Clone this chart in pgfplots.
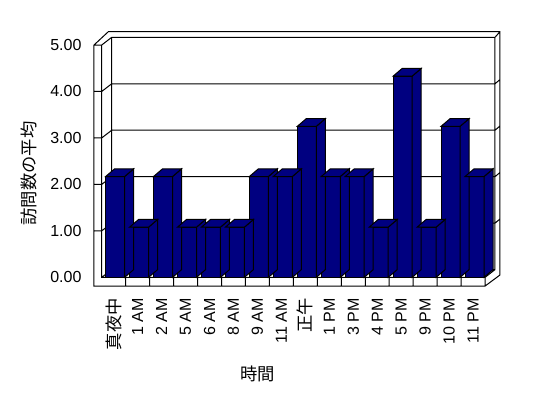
\documentclass[border=0pt]{standalone}
\usepackage{pgfplots}
\pgfplotsset{compat=1.18}
\usepackage{pgfplotstable}
\usepackage{fontspec}
\setmainfont{Liberation Sans}
\newfontfamily\jp{Noto Sans CJK JP}
\definecolor{navy}{RGB}{0,0,128}

\newlength\bh
\pgfdeclareplotmark{barcap}{%
  \pgfmathsetlength{\bh}{\barv*34.85pt}%
  \pgfpathmoveto{\pgfqpoint{7.125pt}{0pt}}%
  \pgfpathlineto{\pgfqpoint{13.875pt}{5.775pt}}%
  \pgfpathlineto{\pgfpoint{13.875pt}{5.775pt-\bh}}%
  \pgfpathlineto{\pgfpoint{7.125pt}{-\bh}}%
  \pgfpathclose
  \pgfusepath{fill,stroke}%
  \pgfpathmoveto{\pgfqpoint{-7.125pt}{0pt}}%
  \pgfpathlineto{\pgfqpoint{7.125pt}{0pt}}%
  \pgfpathlineto{\pgfqpoint{13.875pt}{5.775pt}}%
  \pgfpathlineto{\pgfqpoint{-0.375pt}{5.775pt}}%
  \pgfpathclose
  \pgfusepath{fill,stroke}%
}

\pgfplotstableread{
x v
0.06 2.17
1.06 1.08
2.06 2.17
3.06 1.08
4.06 1.08
5.06 1.08
6.06 2.17
7.06 2.17
8.06 3.25
9.06 2.17
10.06 2.17
11.06 1.08
12.06 4.33
13.06 1.08
14.06 3.25
15.06 2.17
}\datatable

\begin{document}
\begin{tikzpicture}
\begin{axis}[
  x=17.97pt, y=34.85pt,
  xmin=-0.5, xmax=15.5, ymin=0, ymax=5,
  clip=false,
  axis line style={draw=none},
  major tick length=0pt,
  xtick={0,...,15},
  xticklabels={{\jp\fontsize{13}{15}\selectfont 真夜中},1 AM,2 AM,5 AM,6 AM,8 AM,9 AM,11 AM,{\jp\fontsize{13}{15}\selectfont 正午},1 PM,3 PM,4 PM,5 PM,9 PM,10 PM,11 PM},
  ytick={0,...,5},
  xticklabel style={rotate=90, anchor=east, inner sep=0pt, font=\fontsize{12}{14}\selectfont},
  yticklabel style={anchor=east, inner sep=0pt, font=\fontsize{12}{14}\selectfont,
    /pgf/number format/fixed, /pgf/number format/fixed zerofill, /pgf/number format/precision=2},
  xticklabel shift=15.5pt,
  yticklabel shift=15pt,
  /pgf/number format/assume math mode=true,
]
\path (axis cs:-4.745,5.969) rectangle (axis cs:18.126,-2.598);
\draw[line width=0.75pt]
  (axis cs:-0.822,-0.187) -- (axis cs:15.5,-0.187) -- (axis cs:16.12,0.05) -- (axis cs:16.12,5.286) -- (axis cs:-0.225,5.286) -- (axis cs:-0.822,5) -- cycle
  (axis cs:-0.822,5) -- (axis cs:-0.5,5) -- (axis cs:-0.5,0) -- (axis cs:15.5,0) -- (axis cs:15.5,-0.187)
  (axis cs:-0.5,5) -- (axis cs:-0.083,5.166) -- (axis cs:15.914,5.166) -- (axis cs:16.12,5.286)
  (axis cs:-0.083,5.166) -- (axis cs:-0.083,0.166) -- (axis cs:15.914,0.166) -- (axis cs:15.914,5.166)
  (axis cs:-0.5,0) -- (axis cs:-0.083,0.166)
  (axis cs:15.5,0) -- (axis cs:15.914,0.166)
  (axis cs:-0.822,1) -- (axis cs:-0.5,1) -- (axis cs:-0.083,1.166) -- (axis cs:15.914,1.166) -- (axis cs:16.12,1.256)
  (axis cs:-0.822,2) -- (axis cs:-0.5,2) -- (axis cs:-0.083,2.166) -- (axis cs:15.914,2.166) -- (axis cs:16.12,2.256)
  (axis cs:-0.822,3) -- (axis cs:-0.5,3) -- (axis cs:-0.083,3.166) -- (axis cs:15.914,3.166) -- (axis cs:16.12,3.256)
  (axis cs:-0.822,4) -- (axis cs:-0.5,4) -- (axis cs:-0.083,4.166) -- (axis cs:15.914,4.166) -- (axis cs:16.12,4.256)
  (axis cs:0.5,0) -- (axis cs:0.5,-0.187)
  (axis cs:1.5,0) -- (axis cs:1.5,-0.187)
  (axis cs:2.5,0) -- (axis cs:2.5,-0.187)
  (axis cs:3.5,0) -- (axis cs:3.5,-0.187)
  (axis cs:4.5,0) -- (axis cs:4.5,-0.187)
  (axis cs:5.5,0) -- (axis cs:5.5,-0.187)
  (axis cs:6.5,0) -- (axis cs:6.5,-0.187)
  (axis cs:7.5,0) -- (axis cs:7.5,-0.187)
  (axis cs:8.5,0) -- (axis cs:8.5,-0.187)
  (axis cs:9.5,0) -- (axis cs:9.5,-0.187)
  (axis cs:10.5,0) -- (axis cs:10.5,-0.187)
  (axis cs:11.5,0) -- (axis cs:11.5,-0.187)
  (axis cs:12.5,0) -- (axis cs:12.5,-0.187)
  (axis cs:13.5,0) -- (axis cs:13.5,-0.187)
  (axis cs:14.5,0) -- (axis cs:14.5,-0.187);
\addplot[only marks, mark=barcap, mark options={fill=navy, draw=black, line width=0.75pt},
  visualization depends on={\thisrow{v} \as \barv}] table[x=x, y=v] {\datatable};
\addplot[ybar, bar width=14.25pt, fill=navy, draw=black, line width=0.75pt] table[x=x, y=v] {\datatable};
\node[rotate=90, font=\jp\fontsize{13}{15}\selectfont] at (axis cs:-3.556,2.234) {訪問数の平均};
\node[font=\jp\fontsize{13}{15}\selectfont] at (axis cs:6.0,-2.08) {時間};
\end{axis}
\end{tikzpicture}
\end{document}
